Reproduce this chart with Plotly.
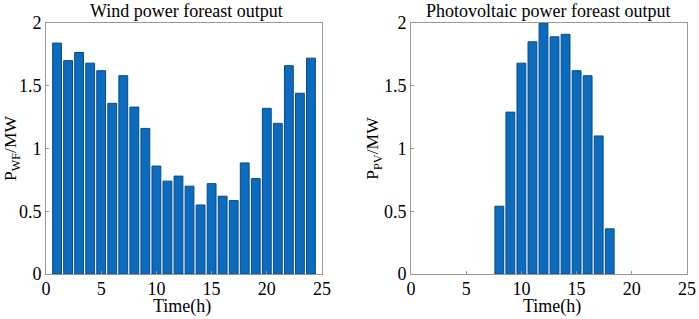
import plotly.graph_objects as go

hours = list(range(1, 25))
wind = [1.84, 1.70, 1.765, 1.68, 1.62, 1.36, 1.58, 1.33, 1.16, 0.86, 0.74, 0.78,
        0.70, 0.55, 0.72, 0.62, 0.585, 0.885, 0.76, 1.32, 1.20, 1.66, 1.44, 1.72]
pv_hours = list(range(8, 19))
pv = [0.54, 1.29, 1.68, 1.85, 2.0, 1.89, 1.91, 1.62, 1.58, 1.10, 0.36]

xticks = [0, 5, 10, 15, 20, 25]
yticks = [0, 0.5, 1, 1.5, 2]
yticklabels = ["0", "0.5", "1", "1.5", "2"]

W, H = 699, 319
ML, MR, MT, MB = 46, 12, 23, 45
PW, PH = W - ML - MR, H - MT - MB
bar_color = "#0b6cbf"
edge_color = "#0a4a85"
font = "Liberation Serif"
fs = 18


def px_x(p):
    return (p - ML) / PW


def px_y(p):
    return (H - MB - p) / PH


fig = go.Figure()
fig.add_trace(go.Bar(x=hours, y=wind, width=0.8, marker=dict(color=bar_color, line=dict(color=edge_color, width=1)),
                     xaxis="x", yaxis="y", showlegend=False))
fig.add_trace(go.Bar(x=pv_hours, y=pv, width=0.8, marker=dict(color=bar_color, line=dict(color=edge_color, width=1)),
                     xaxis="x2", yaxis="y2", showlegend=False))

text_font = dict(family=font, size=18, color="black")
fig.update_layout(
    width=W, height=H, margin=dict(l=ML, r=MR, t=MT, b=MB, autoexpand=False),
    paper_bgcolor="white", plot_bgcolor="white",
    font=dict(family=font, color="black", size=fs),
    xaxis=dict(domain=[0, px_x(322)], range=[0, 25], tickvals=xticks, anchor="y"),
    yaxis=dict(domain=[0, 1], range=[0, 2], tickvals=yticks, ticktext=yticklabels, anchor="x",
               title=dict(text="P<sub>WF</sub>/MW", standoff=0, font=dict(family=font, size=17.5))),
    xaxis2=dict(domain=[px_x(411), 1], range=[0, 25], tickvals=xticks, anchor="y2"),
    yaxis2=dict(domain=[0, 1], range=[0, 2], tickvals=yticks, ticktext=yticklabels, anchor="x2",
                title=dict(text="P<sub>PV</sub>/MW", standoff=0, font=dict(family=font, size=17.5))),
    bargap=0.2,
    annotations=[
        dict(text="Wind power foreast output", x=px_x(186), y=px_y(11), xref="paper", yref="paper",
             showarrow=False, font=text_font, xanchor="center", yanchor="middle"),
        dict(text="Photovoltaic power foreast output", x=px_x(548), y=px_y(11), xref="paper", yref="paper",
             showarrow=False, font=text_font, xanchor="center", yanchor="middle"),
        dict(text="Time(h)", x=px_x(182), y=px_y(307), xref="paper", yref="paper",
             showarrow=False, font=text_font, xanchor="center", yanchor="middle"),
        dict(text="Time(h)", x=px_x(552), y=px_y(307), xref="paper", yref="paper",
             showarrow=False, font=text_font, xanchor="center", yanchor="middle"),
    ],
)
fig.update_xaxes(showline=True, mirror=True, linecolor="#999999", linewidth=1, ticks="inside",
                 ticklen=3, tickcolor="#999999", showgrid=False, zeroline=False, automargin=False,
                 tickfont=dict(family=font, size=fs, color="black"), ticklabelstandoff=-2)
fig.update_yaxes(showline=True, mirror=True, linecolor="#999999", linewidth=1, ticks="inside",
                 ticklen=3, tickcolor="#999999", showgrid=False, zeroline=False, automargin=False,
                 tickfont=dict(family=font, size=fs, color="black"))

fig.write_html("out.html", config={"displayModeBar": False},
               post_script="document.body.style.margin='0';")
